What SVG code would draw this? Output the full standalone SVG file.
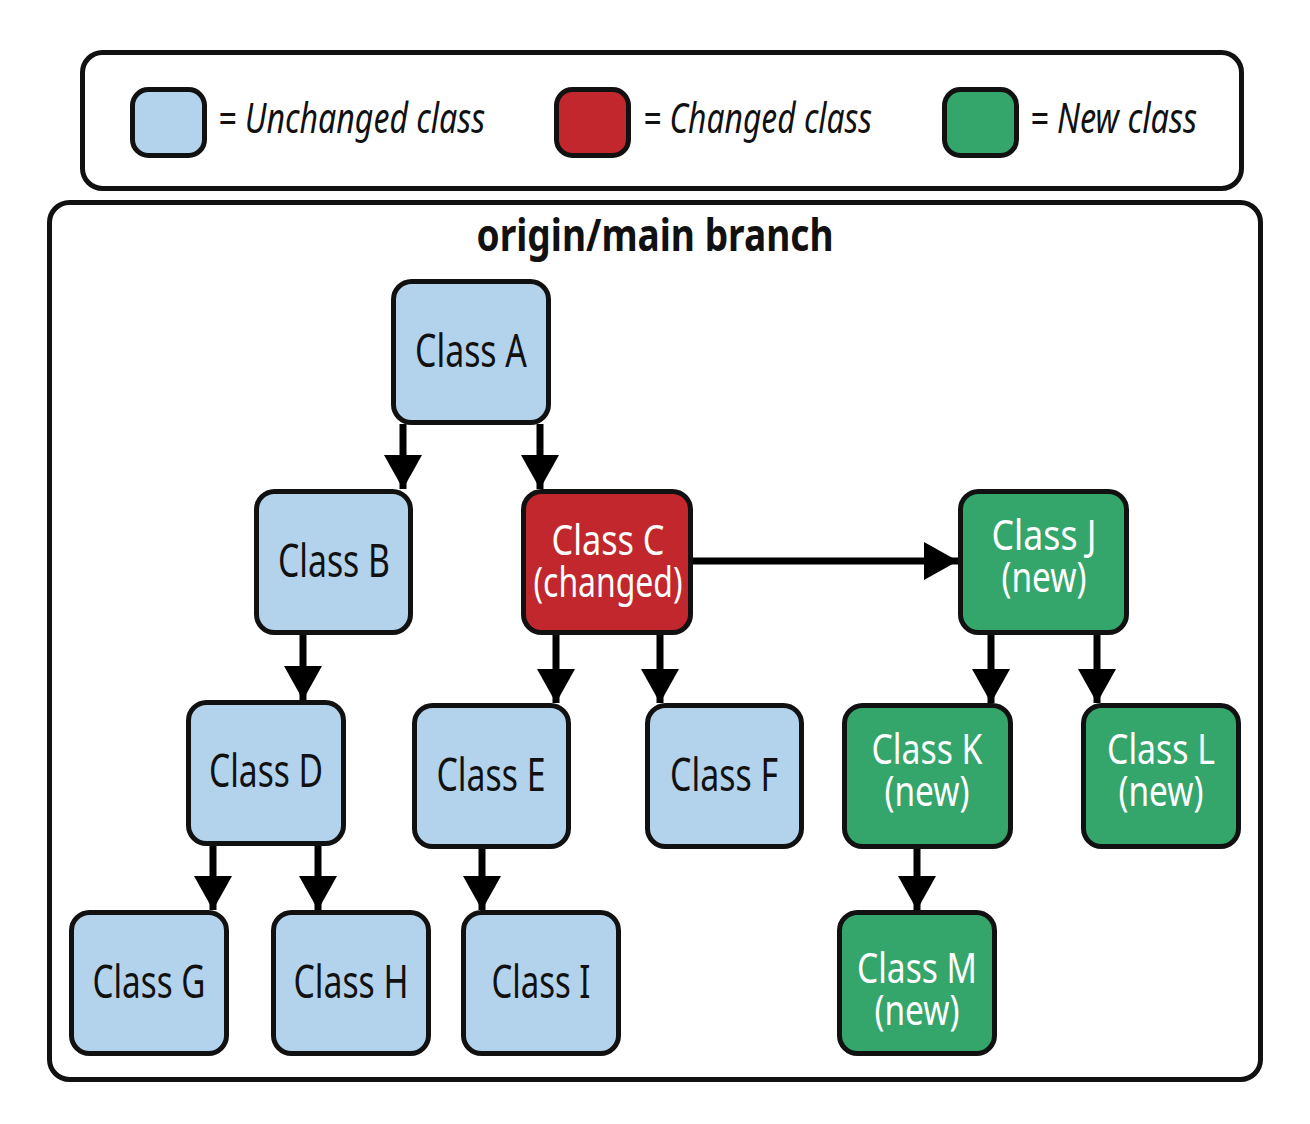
<svg xmlns="http://www.w3.org/2000/svg" width="1310" height="1124" viewBox="0 0 1310 1124">
<style>
.frame{fill:#fff;stroke:#111;stroke-width:5}
.node{stroke:#111;stroke-width:5}
.u{fill:#b3d3ec}
.c{fill:#c1272d}
.n{fill:#34a66c}
.t{font-family:"Noto Sans","Liberation Sans",sans-serif;font-size:46px;text-anchor:middle}
.t2{font-family:"Noto Sans","Liberation Sans",sans-serif;font-size:41px;text-anchor:middle}
.dk{fill:#111}
.wt{fill:#fff}
.lg{font-family:"Noto Sans","Liberation Sans",sans-serif;font-size:42px;font-style:italic;fill:#111}
.ttl{font-family:"Noto Sans","Liberation Sans",sans-serif;font-size:44px;font-weight:bold;fill:#111;text-anchor:middle}
.ar{stroke:#000;stroke-width:7;fill:none;marker-end:url(#ah)}
</style>
<defs>
<marker id="ah" markerUnits="userSpaceOnUse" markerWidth="34" markerHeight="38" refX="34" refY="19" orient="auto">
<path d="M0,0 L34,19 L0,38 z" fill="#000"/>
</marker>
</defs>
<rect width="1310" height="1124" fill="#fff"/>
<g id="legend">
<rect class="frame" x="82.5" y="52.5" width="1159" height="136" rx="20"/>
<rect class="node u" x="132.5" y="89.5" width="72" height="66" rx="16"/>
<text class="lg" x="218" y="133" textLength="267" lengthAdjust="spacingAndGlyphs">= Unchanged class</text>
<rect class="node c" x="556.5" y="89.5" width="72" height="66" rx="16"/>
<text class="lg" x="643" y="133" textLength="229" lengthAdjust="spacingAndGlyphs">= Changed class</text>
<rect class="node n" x="944.5" y="89.5" width="72" height="66" rx="16"/>
<text class="lg" x="1030" y="133" textLength="167" lengthAdjust="spacingAndGlyphs">= New class</text>
</g>
<g id="branch">
<rect class="frame" x="49.5" y="202.5" width="1211" height="877" rx="20"/>
<text class="ttl" x="655" y="251" textLength="357" lengthAdjust="spacingAndGlyphs">origin/main branch</text>
</g>
<g id="connectors">
<line class="ar" x1="403" y1="424" x2="403" y2="489"/>
<line class="ar" x1="540" y1="424" x2="540" y2="489"/>
<line class="ar" x1="303" y1="634" x2="303" y2="700"/>
<line class="ar" x1="556" y1="634" x2="556" y2="703"/>
<line class="ar" x1="660" y1="634" x2="660" y2="703"/>
<line class="ar" x1="692" y1="561" x2="958" y2="561"/>
<line class="ar" x1="213" y1="845" x2="213" y2="910"/>
<line class="ar" x1="318" y1="845" x2="318" y2="910"/>
<line class="ar" x1="482" y1="848" x2="482" y2="910"/>
<line class="ar" x1="991" y1="634" x2="991" y2="703"/>
<line class="ar" x1="1097" y1="634" x2="1097" y2="703"/>
<line class="ar" x1="917" y1="848" x2="917" y2="910"/>
</g>
<g id="classA">
<rect class="node u" x="393.5" y="281.5" width="155" height="141" rx="18"/>
<text class="t dk" x="471" y="367" textLength="112" lengthAdjust="spacingAndGlyphs">Class A</text>
</g>
<g id="classB">
<rect class="node u" x="256.5" y="491.5" width="154" height="141" rx="18"/>
<text class="t dk" x="334" y="577" textLength="112" lengthAdjust="spacingAndGlyphs">Class B</text>
</g>
<g id="classC">
<rect class="node c" x="523.5" y="491.5" width="167" height="141" rx="18"/>
<text class="t2 wt" x="608" y="555" textLength="113" lengthAdjust="spacingAndGlyphs">Class C</text>
<text class="t2 wt" x="608" y="597" textLength="149" lengthAdjust="spacingAndGlyphs">(changed)</text>
</g>
<g id="classJ">
<rect class="node n" x="960.5" y="491.5" width="166" height="141" rx="18"/>
<text class="t2 wt" x="1044" y="550" textLength="105" lengthAdjust="spacingAndGlyphs">Class J</text>
<text class="t2 wt" x="1044" y="592" textLength="85" lengthAdjust="spacingAndGlyphs">(new)</text>
</g>
<g id="classD">
<rect class="node u" x="188.5" y="702.5" width="155" height="141" rx="18"/>
<text class="t dk" x="266" y="787" textLength="114" lengthAdjust="spacingAndGlyphs">Class D</text>
</g>
<g id="classE">
<rect class="node u" x="414.5" y="705.5" width="154" height="141" rx="18"/>
<text class="t dk" x="491" y="791" textLength="109" lengthAdjust="spacingAndGlyphs">Class E</text>
</g>
<g id="classF">
<rect class="node u" x="647.5" y="705.5" width="154" height="141" rx="18"/>
<text class="t dk" x="724" y="791" textLength="108" lengthAdjust="spacingAndGlyphs">Class F</text>
</g>
<g id="classK">
<rect class="node n" x="844.5" y="705.5" width="166" height="141" rx="18"/>
<text class="t2 wt" x="927" y="764" textLength="111" lengthAdjust="spacingAndGlyphs">Class K</text>
<text class="t2 wt" x="927" y="806" textLength="85" lengthAdjust="spacingAndGlyphs">(new)</text>
</g>
<g id="classL">
<rect class="node n" x="1083.5" y="705.5" width="155" height="141" rx="18"/>
<text class="t2 wt" x="1161" y="764" textLength="108" lengthAdjust="spacingAndGlyphs">Class L</text>
<text class="t2 wt" x="1161" y="806" textLength="85" lengthAdjust="spacingAndGlyphs">(new)</text>
</g>
<g id="classG">
<rect class="node u" x="71.5" y="912.5" width="155" height="141" rx="18"/>
<text class="t dk" x="149" y="998" textLength="113" lengthAdjust="spacingAndGlyphs">Class G</text>
</g>
<g id="classH">
<rect class="node u" x="273.5" y="912.5" width="155" height="141" rx="18"/>
<text class="t dk" x="351" y="998" textLength="115" lengthAdjust="spacingAndGlyphs">Class H</text>
</g>
<g id="classI">
<rect class="node u" x="463.5" y="912.5" width="155" height="141" rx="18"/>
<text class="t dk" x="541" y="998" textLength="99" lengthAdjust="spacingAndGlyphs">Class I</text>
</g>
<g id="classM">
<rect class="node n" x="839.5" y="912.5" width="155" height="141" rx="18"/>
<text class="t2 wt" x="917" y="983" textLength="120" lengthAdjust="spacingAndGlyphs">Class M</text>
<text class="t2 wt" x="917" y="1025" textLength="85" lengthAdjust="spacingAndGlyphs">(new)</text>
</g>
</svg>
